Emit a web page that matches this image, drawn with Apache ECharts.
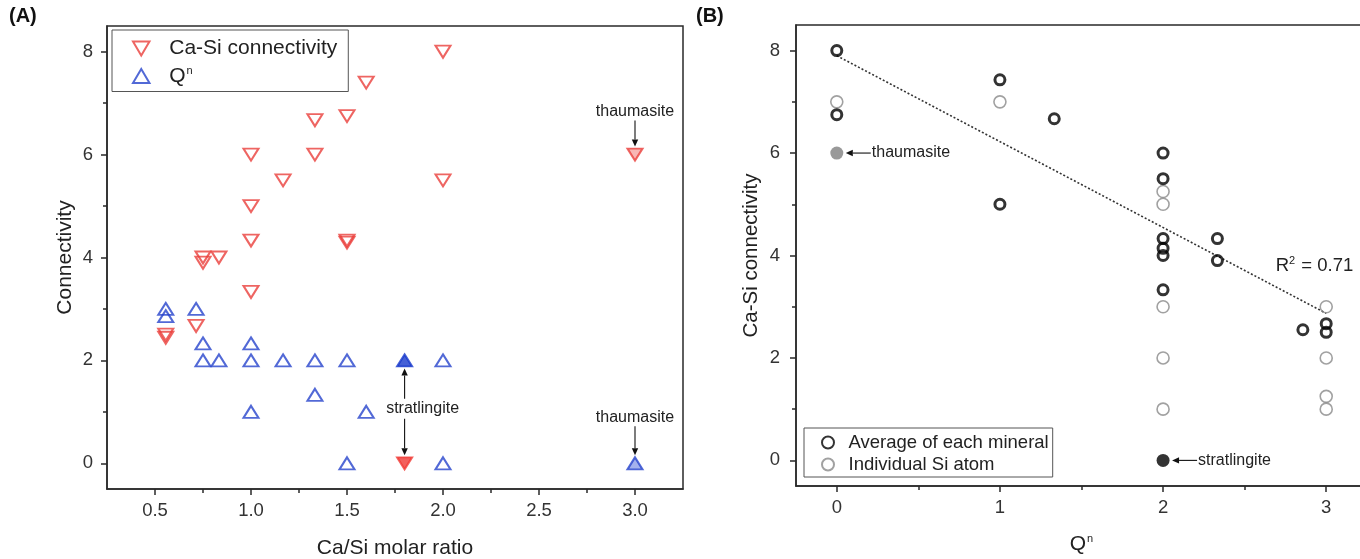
<!DOCTYPE html>
<html>
<head>
<meta charset="utf-8">
<script src="https://cdn.jsdelivr.net/npm/echarts@6/dist/echarts.min.js"></script>
<style>
html, body { margin: 0; padding: 0; background: #fff; }
#chart { width: 1360px; height: 559px; }
</style>
</head>
<body>
<div id="chart"></div>
<script>
// ---- Panel A: connectivity vs Ca/Si molar ratio ----
const connRatio = [2.0, 1.6, 1.333, 1.5, 1.0, 1.333, 1.167, 2.0, 1.0, 1.0, 1.5, 1.5, 0.75, 0.75, 0.833, 1.0, 0.556, 0.556, 0.714];
const connValue = [8, 7.4, 6.67, 6.75, 6, 6, 5.5, 5.5, 5, 4.33, 4.33, 4.29, 4.0, 3.9, 4.0, 3.33, 2.5, 2.44, 2.67];
const qnRatio = [0.556, 0.556, 0.714, 0.75, 1.0, 0.75, 0.833, 1.0, 1.167, 1.333, 1.5, 2.0, 1.333, 1.0, 1.6, 1.5, 2.0];
const qnValue = [3, 2.86, 3, 2.33, 2.33, 2, 2, 2, 2, 2, 2, 2, 1.33, 1, 1, 0, 0];
// highlighted minerals: [Ca/Si ratio, value]
const stratConnA = [1.8, 0];
const stratQnA = [1.8, 2];
const thauConnA = [3.0, 6];
const thauQnA = [3.0, 0];
const ratioMajorTicks = [0.5, 1.0, 1.5, 2.0, 2.5, 3.0];
const ratioMinorTicks = [0.75, 1.25, 1.75, 2.25, 2.75];

// ---- Panel B: Ca-Si connectivity vs Q^n ----
const avgQn = [0, 0, 1, 1, 1.333, 2, 2, 2, 2, 2, 2, 2.333, 2.333, 2.857, 3, 3];
const avgConn = [8, 6.75, 7.43, 5, 6.67, 6, 5.5, 4.33, 4.14, 4.0, 3.33, 4.33, 3.9, 2.55, 2.67, 2.5];
const siQn = [0, 1, 2, 2, 2, 2, 2, 3, 3, 3, 3];
const siConn = [7, 7, 5.25, 5, 3, 2, 1, 3, 2, 1.25, 1];
const thauB = [0, 6];
const stratB = [2, 0];
const trendQn = [0, 3];
const trendConn = [7.9, 2.87];
const qnMajorTicks = [0, 1, 2, 3];
const qnMinorTicks = [0.5, 1.5, 2.5];

const connMajorTicks = [0, 2, 4, 6, 8];
const connMinorTicks = [1, 3, 5, 7];

const zip = (xs, ys) => xs.map((x, i) => [x, ys[i]]);

const FONT = 'Liberation Sans, Arial, sans-serif';
const AXIS_COLOR = '#2a2a2a';
const RED = '#ea3f3b';
const BLUE = '#2743cc';
const DOWN_TRI = 'path://M0,0 L20,0 L10,17 Z';
const UP_TRI = 'path://M10,0 L20,17 L0,17 Z';

function mainAxis(gridIndex, min, max, majors, opts) {
  return Object.assign({
    type: 'value', gridIndex, min, max,
    axisLine: { show: true, onZero: false, lineStyle: { color: AXIS_COLOR, width: 1.5 } },
    axisTick: { show: true, inside: false, length: 6, customValues: majors, lineStyle: { color: AXIS_COLOR, width: 1.5 } },
    splitLine: { show: false }
  }, opts);
}
function minorAxis(gridIndex, min, max, minors, position) {
  return {
    type: 'value', gridIndex, min, max, position,
    axisLine: { show: false, onZero: false },
    axisTick: { show: true, inside: false, length: 4, customValues: minors, lineStyle: { color: AXIS_COLOR, width: 1.5 } },
    axisLabel: { show: false },
    splitLine: { show: false }
  };
}
const tickLabel = (values, margin, fmt) => ({
  customValues: values, margin, color: '#333', fontFamily: FONT, fontSize: 18.5, formatter: fmt
});

const option = {
  animation: false,
  backgroundColor: '#fff',
  grid: [
    { left: 107, top: 26, width: 576, height: 463, show: true, borderColor: AXIS_COLOR, borderWidth: 1.5,
      outerBoundsMode: 'none', containLabel: false },
    { left: 796, top: 25, width: 571, height: 461, show: true, borderColor: AXIS_COLOR, borderWidth: 1.5,
      outerBoundsMode: 'none', containLabel: false }
  ],
  xAxis: [
    mainAxis(0, 0.25, 3.25, ratioMajorTicks, {
      position: 'bottom',
      axisLabel: tickLabel(ratioMajorTicks, 12, v => v.toFixed(1)),
      name: 'Ca/Si molar ratio', nameLocation: 'middle', nameGap: 49,
      nameTextStyle: { fontFamily: FONT, fontSize: 21, color: '#222' }
    }),
    minorAxis(0, 0.25, 3.25, ratioMinorTicks, 'bottom'),
    mainAxis(1, -0.25, 3.25, qnMajorTicks, {
      position: 'bottom',
      axisLabel: tickLabel(qnMajorTicks, 12),
      name: 'Q{sup|n}', nameLocation: 'middle', nameGap: 47,
      nameTextStyle: { fontFamily: FONT, fontSize: 21, color: '#222',
        rich: { sup: { fontFamily: FONT, fontSize: 11, color: '#222', padding: [0, 0, 11, 1] } } }
    }),
    minorAxis(1, -0.25, 3.25, qnMinorTicks, 'bottom')
  ],
  yAxis: [
    mainAxis(0, -0.5, 8.5, connMajorTicks, {
      position: 'left',
      axisLabel: tickLabel(connMajorTicks, 14),
      name: 'Connectivity', nameLocation: 'middle', nameGap: 31,
      nameTextStyle: { fontFamily: FONT, fontSize: 21, color: '#222' }
    }),
    minorAxis(0, -0.5, 8.5, connMinorTicks, 'left'),
    mainAxis(1, -0.5, 8.5, connMajorTicks, {
      position: 'left',
      axisLabel: tickLabel(connMajorTicks, 16),
      name: 'Ca-Si connectivity', nameLocation: 'middle', nameGap: 34,
      nameTextStyle: { fontFamily: FONT, fontSize: 20.5, color: '#222' }
    }),
    minorAxis(1, -0.5, 8.5, connMinorTicks, 'left')
  ],
  legend: [
    {
      data: ['Ca-Si connectivity', 'Qn'],
      orient: 'vertical', left: 112, top: 30,
      padding: [8, 11, 5, 20], itemGap: 6, itemWidth: 46, itemHeight: 14,
      borderColor: '#555', borderWidth: 1, backgroundColor: '#fff',
      formatter: n => n === 'Qn' ? 'Q{sup|n}' : n,
      textStyle: { fontFamily: FONT, fontSize: 21, color: '#222',
        rich: { sup: { fontFamily: FONT, fontSize: 11, color: '#222', padding: [0, 0, 11, 1] } } }
    },
    {
      data: ['Average of each mineral', 'Individual Si atom'],
      orient: 'vertical', left: 804, top: 428,
      padding: [5, 4, 3, 17], itemGap: 3, itemWidth: 31, itemHeight: 12,
      borderColor: '#555', borderWidth: 1, backgroundColor: '#fff',
      textStyle: { fontFamily: FONT, fontSize: 18.5, color: '#222' }
    }
  ],
  series: [
    // Panel A
    {
      name: 'Ca-Si connectivity', type: 'scatter', xAxisIndex: 0, yAxisIndex: 0,
      symbol: DOWN_TRI, symbolSize: [15, 12],
      itemStyle: { color: 'rgba(255,255,255,0)', borderColor: RED, borderWidth: 2 },
      data: zip(connRatio, connValue)
    },
    {
      name: 'Qn', type: 'scatter', xAxisIndex: 0, yAxisIndex: 0,
      symbol: UP_TRI, symbolSize: [15, 12],
      itemStyle: { color: 'rgba(255,255,255,0)', borderColor: BLUE, borderWidth: 2 },
      data: zip(qnRatio, qnValue)
    },
    {
      name: 'stratlingite connectivity', type: 'scatter', xAxisIndex: 0, yAxisIndex: 0,
      symbol: DOWN_TRI, symbolSize: [15, 12],
      itemStyle: { color: '#f03a34', borderColor: '#f03a34', borderWidth: 2 },
      data: [stratConnA]
    },
    {
      name: 'stratlingite Qn', type: 'scatter', xAxisIndex: 0, yAxisIndex: 0,
      symbol: UP_TRI, symbolSize: [15, 12],
      itemStyle: { color: '#1638cc', borderColor: '#1638cc', borderWidth: 2 },
      data: [stratQnA]
    },
    {
      name: 'thaumasite connectivity', type: 'scatter', xAxisIndex: 0, yAxisIndex: 0,
      symbol: DOWN_TRI, symbolSize: [15, 12],
      itemStyle: { color: '#f6a5a3', borderColor: RED, borderWidth: 2 },
      data: [thauConnA]
    },
    {
      name: 'thaumasite Qn', type: 'scatter', xAxisIndex: 0, yAxisIndex: 0,
      symbol: UP_TRI, symbolSize: [15, 12],
      itemStyle: { color: '#8d9fe8', borderColor: BLUE, borderWidth: 2 },
      data: [thauQnA]
    },
    // Panel B
    {
      name: 'trend', type: 'line', xAxisIndex: 2, yAxisIndex: 2,
      symbol: 'none', silent: true,
      lineStyle: { color: '#333', width: 1.6, type: [2, 2] },
      data: zip(trendQn, trendConn), z: 1
    },
    {
      name: 'Individual Si atom', type: 'scatter', xAxisIndex: 2, yAxisIndex: 2,
      symbol: 'circle', symbolSize: 12,
      itemStyle: { color: 'rgba(255,255,255,0)', borderColor: '#8a8a8a', borderWidth: 1.6 },
      data: zip(siQn, siConn), z: 2
    },
    {
      name: 'Average of each mineral', type: 'scatter', xAxisIndex: 2, yAxisIndex: 2,
      symbol: 'circle', symbolSize: 10,
      itemStyle: { color: 'rgba(255,255,255,0)', borderColor: '#000', borderWidth: 3 },
      data: zip(avgQn, avgConn), z: 3
    },
    {
      name: 'thaumasite B', type: 'scatter', xAxisIndex: 2, yAxisIndex: 2,
      symbol: 'circle', symbolSize: 13,
      itemStyle: { color: '#808080', borderColor: '#808080', borderWidth: 0 },
      data: [thauB], z: 3
    },
    {
      name: 'stratlingite B', type: 'scatter', xAxisIndex: 2, yAxisIndex: 2,
      symbol: 'circle', symbolSize: 13,
      itemStyle: { color: '#000', borderColor: '#000', borderWidth: 0 },
      data: [stratB], z: 3
    }
  ]
};

const chart = echarts.init(document.getElementById('chart'), null, { renderer: 'canvas' });
chart.setOption(option);

// ---- annotations (arrows + labels), positioned from data coordinates ----
function px(point, panel) {
  const finder = panel === 0 ? { xAxisIndex: 0, yAxisIndex: 0 } : { xAxisIndex: 2, yAxisIndex: 2 };
  return chart.convertToPixel(finder, point);
}
function arrow(x1, y1, x2, y2) {
  const a = Math.atan2(y2 - y1, x2 - x1);
  const hl = 7, hw = 3.2;
  const bx = x2 - hl * Math.cos(a), by = y2 - hl * Math.sin(a);
  const nx = -Math.sin(a) * hw, ny = Math.cos(a) * hw;
  return [
    { type: 'line', silent: true, shape: { x1, y1, x2: bx, y2: by }, style: { stroke: '#111', lineWidth: 1.1 } },
    { type: 'polygon', silent: true, shape: { points: [[x2, y2], [bx + nx, by + ny], [bx - nx, by - ny]] }, style: { fill: '#111' } }
  ];
}
function note(text, x, y, align) {
  return { type: 'text', silent: true, x, y,
    style: { text, fill: '#222', font: '16px ' + FONT, align: align || 'center', verticalAlign: 'middle' } };
}

const g = [];
// Panel A
const pThA = px(thauConnA, 0);
g.push(note('thaumasite', pThA[0], pThA[1] - 43));
g.push(...arrow(pThA[0], pThA[1] - 34, pThA[0], pThA[1] - 8));
const pThQ = px(thauQnA, 0);
g.push(note('thaumasite', pThQ[0], pThQ[1] - 46));
g.push(...arrow(pThQ[0], pThQ[1] - 37, pThQ[0], pThQ[1] - 8));
const pStC = px(stratConnA, 0);
const pStQ = px(stratQnA, 0);
const midY = (pStC[1] + pStQ[1]) / 2 - 3;
g.push(note('stratlingite', pStC[0] + 18, midY));
g.push(...arrow(pStQ[0], midY - 10, pStQ[0], pStQ[1] + 8));
g.push(...arrow(pStC[0], midY + 10, pStC[0], pStC[1] - 8));
// Panel B
const pThB = px(thauB, 1);
g.push(...arrow(pThB[0] + 34, pThB[1], pThB[0] + 9, pThB[1]));
g.push(note('thaumasite', pThB[0] + 35, pThB[1], 'left'));
const pStB = px(stratB, 1);
g.push(...arrow(pStB[0] + 34, pStB[1], pStB[0] + 9, pStB[1]));
g.push(note('stratlingite', pStB[0] + 35, pStB[1], 'left'));
// R^2 of the trend line
const pR = px([2.69, 3.8], 1);
g.push({ type: 'text', silent: true, x: pR[0], y: pR[1],
  style: { text: 'R{s|2} = 0.71', fill: '#222', font: '18.5px ' + FONT, align: 'left', verticalAlign: 'middle',
    rich: { s: { fontSize: 11, fontFamily: FONT, fill: '#222', padding: [0, 1, 10, 0] } } } });
// panel letters
g.push({ type: 'text', silent: true, x: 9, y: 16,
  style: { text: '(A)', fill: '#111', font: 'bold 20px ' + FONT, verticalAlign: 'middle' } });
g.push({ type: 'text', silent: true, x: 696, y: 16,
  style: { text: '(B)', fill: '#111', font: 'bold 20px ' + FONT, verticalAlign: 'middle' } });

chart.setOption({ graphic: g });
</script>
</body>
</html>
